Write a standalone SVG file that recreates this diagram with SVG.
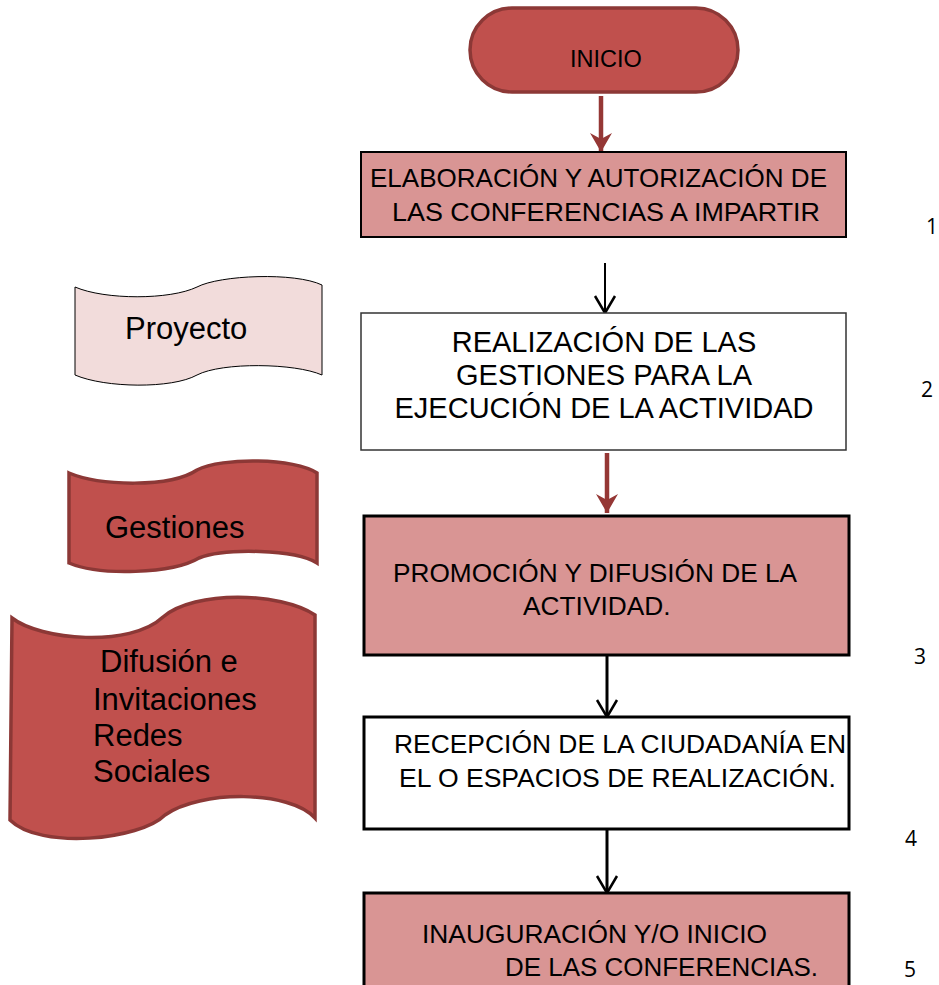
<svg xmlns="http://www.w3.org/2000/svg" width="939" height="985" viewBox="0 0 939 985">
<defs>
<style>
.t{font-family:"Liberation Sans",Arial,sans-serif;fill:#000}
.box{font-size:26.3px}
.side{font-size:31px}
.num{font-family:"Open Sans","Liberation Sans",sans-serif;font-size:21px;fill:#000}
.red{fill:#C0504D;stroke:#8C3836;stroke-width:3.5}
.pink{fill:#D99594;stroke:#000}
.cr{stroke:#953735;stroke-width:4.5;fill:none}
.cb{stroke:#000;fill:none}
</style>
<marker id="ahr" markerUnits="userSpaceOnUse" viewBox="-20 -12 22 24" refX="0" refY="0" markerWidth="22" markerHeight="24" orient="auto">
<path d="M0,0 L-19,-11 L-13,0 L-19,11 Z" fill="#953735"/>
</marker>
<marker id="ahb" markerUnits="userSpaceOnUse" viewBox="-20 -14 24 28" refX="0" refY="0" markerWidth="24" markerHeight="28" orient="auto">
<path d="M-17,-10 L0,0 L-17,10" fill="none" stroke="#000" stroke-width="2.5"/>
</marker>
</defs>
<rect width="939" height="985" fill="#FFFFFF"/>

<g id="connectors">
<line class="cr" x1="601" y1="96" x2="601" y2="152" marker-end="url(#ahr)"/>
<line class="cb" stroke-width="2" x1="605" y1="263" x2="605" y2="313" marker-end="url(#ahb)"/>
<line class="cr" x1="607" y1="453" x2="607" y2="513" marker-end="url(#ahr)"/>
<line class="cb" stroke-width="3" x1="607" y1="655" x2="607" y2="717" marker-end="url(#ahb)"/>
<line class="cb" stroke-width="3" x1="607" y1="829" x2="607" y2="893" marker-end="url(#ahb)"/>
</g>

<g id="inicio">
<rect class="red" x="470" y="8" width="268" height="84" rx="42" ry="42"/>
<text class="t" x="606" y="67" font-size="23.5" text-anchor="middle">INICIO</text>
</g>

<g id="paso1">
<rect class="pink" stroke-width="2" x="361" y="152" width="485" height="85"/>
<text class="t box" x="370" y="187" textLength="457" lengthAdjust="spacingAndGlyphs">ELABORACIÓN Y AUTORIZACIÓN DE</text>
<text class="t box" x="392" y="221" textLength="428" lengthAdjust="spacingAndGlyphs">LAS CONFERENCIAS A IMPARTIR</text>
</g>

<g id="paso2">
<rect x="361" y="313" width="485" height="137" fill="#FFFFFF" stroke="#333" stroke-width="1.5"/>
<text class="t" font-size="29" text-anchor="middle" x="604" y="352">REALIZACIÓN DE LAS</text>
<text class="t" font-size="29" text-anchor="middle" x="604" y="385">GESTIONES PARA LA</text>
<text class="t" font-size="29" text-anchor="middle" x="604" y="418">EJECUCIÓN DE LA ACTIVIDAD</text>
</g>

<g id="paso3">
<rect class="pink" stroke-width="3" x="364" y="516" width="485" height="139"/>
<text class="t box" x="393" y="582" textLength="404" lengthAdjust="spacingAndGlyphs">PROMOCIÓN Y DIFUSIÓN DE LA</text>
<text class="t box" x="523" y="615">ACTIVIDAD.</text>
</g>

<g id="paso4">
<rect x="364" y="717" width="485" height="112" fill="#FFFFFF" stroke="#000" stroke-width="3"/>
<text class="t box" x="394" y="753" textLength="452" lengthAdjust="spacingAndGlyphs">RECEPCIÓN DE LA CIUDADANÍA EN</text>
<text class="t box" x="399" y="787" textLength="437" lengthAdjust="spacingAndGlyphs">EL O ESPACIOS DE REALIZACIÓN.</text>
</g>

<g id="paso5">
<rect class="pink" stroke-width="3" x="364" y="893" width="485" height="120"/>
<text class="t box" x="422" y="943" textLength="345" lengthAdjust="spacingAndGlyphs">INAUGURACIÓN Y/O INICIO</text>
<text class="t box" x="505" y="976" textLength="313" lengthAdjust="spacingAndGlyphs">DE LAS CONFERENCIAS.</text>
</g>

<g id="numeros">
<text class="num" x="926" y="234">1</text>
<text class="num" x="921" y="397">2</text>
<text class="num" x="914" y="664">3</text>
<text class="num" x="905" y="846">4</text>
<text class="num" x="904" y="977">5</text>
</g>

<g id="proyecto">
<path d="M75,287 C105,300 170,300 197,287 C220,275 295,272 322,285 L322,375 C295,363 222,362 197,375 C172,389 105,388 75,375 Z" fill="#F2DCDB" stroke="#000" stroke-width="1"/>
<text class="t side" x="125" y="339">Proyecto</text>
</g>

<g id="gestiones">
<path class="red" d="M69,473 C100,486 170,488 197,470 C222,457 295,458 317,473 L317,563 C295,549 225,548 199,558 C172,574 100,576 69,563 Z"/>
<text class="t side" x="105" y="538">Gestiones</text>
</g>

<g id="difusion">
<path class="red" d="M12,618 C40,640 130,648 163,617 C195,590 280,592 315,615 L315,818 C290,790 200,790 165,815 C140,840 40,850 10,820 Z"/>
<text class="t side" x="100" y="672">Difusión e</text>
<text class="t side" x="93" y="710">Invitaciones</text>
<text class="t side" x="93" y="746">Redes</text>
<text class="t side" x="93" y="782">Sociales</text>
</g>
</svg>
